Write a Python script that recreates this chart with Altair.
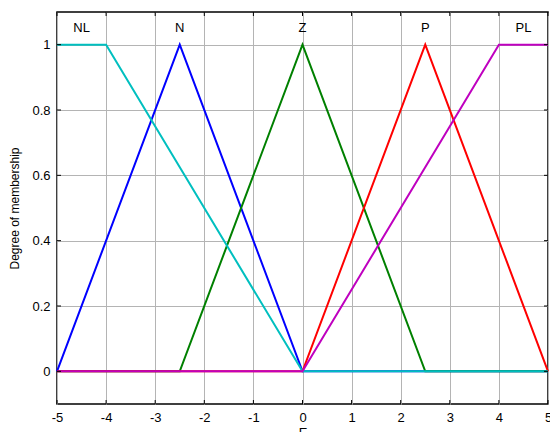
import altair as alt
import pandas as pd

# membership function breakpoints
names = ["NL", "N", "Z", "P", "PL"]
colors = ["#00BFBF", "#0000FF", "#008000", "#FF0000", "#BF00BF"]
xs = {
    "NL": [-5, -4, 0, 5],
    "N": [-5, -2.5, 0, 5],
    "Z": [-5, -2.5, 0, 2.5, 5],
    "P": [-5, 0, 2.5, 5],
    "PL": [-5, 0, 4, 5],
}
ys = {
    "NL": [1, 1, 0, 0],
    "N": [0, 1, 0, 0],
    "Z": [0, 0, 1, 0, 0],
    "P": [0, 0, 1, 0],
    "PL": [0, 0, 1, 1],
}
label_x = [-4.5, -2.5, 0, 2.5, 4.5]
label_y = [1.05, 1.05, 1.05, 1.05, 1.05]
x_ticks = [-5, -4, -3, -2, -1, 0, 1, 2, 3, 4, 5]
y_ticks = [0, 0.2, 0.4, 0.6, 0.8, 1]

FONT = "Liberation Sans"
W, H = 491, 392

xscale = alt.Scale(domain=[-5, 5], nice=False, zero=False)
yscale = alt.Scale(domain=[-0.1, 1.1], nice=False, zero=False)

xaxis = alt.Axis(values=x_ticks, title="E", grid=True, gridColor="#b4b4b4",
                 gridOpacity=1, gridWidth=1, domain=False, ticks=False,
                 labelExpr="datum.value + ''", labelFlush=False,
                 labelFont=FONT, labelFontSize=13, labelColor="#000",
                 labelPadding=7, titleFont=FONT, titleFontSize=13,
                 titleFontWeight="normal", titleColor="#000",
                 titleBaseline="top", titleY=22)
yaxis = alt.Axis(values=y_ticks, title="Degree of membership", grid=True,
                 gridColor="#b4b4b4", gridOpacity=1, gridWidth=1,
                 domain=False, ticks=False, labelExpr="datum.value + ''",
                 labelFlush=False,
                 labelFont=FONT, labelFontSize=13,
                 labelColor="#000", labelPadding=7, titleFont=FONT,
                 titleFontSize=12, titleFontWeight="normal", titleColor="#000",
                 titleX=-43, titleY=196, titleAngle=-90, titleBaseline="middle",
                 titleAlign="center")

draw_order = ["N", "Z", "P", "NL", "PL"]
layers = []
for nm in draw_order:
    c = colors[names.index(nm)]
    df = pd.DataFrame({"x": xs[nm], "y": ys[nm], "i": range(len(xs[nm]))})
    layers.append(
        alt.Chart(df).mark_line(color=c, strokeWidth=2).encode(
            x=alt.X("x:Q", scale=xscale, axis=xaxis),
            y=alt.Y("y:Q", scale=yscale, axis=yaxis),
            order="i:Q",
        )
    )

labels_df = pd.DataFrame({"name": names, "x": label_x, "y": label_y})
labels = alt.Chart(labels_df).mark_text(font=FONT, fontSize=13, color="#000",
                                        baseline="middle", align="center").encode(
    x=alt.X("x:Q", scale=xscale, axis=xaxis),
    y=alt.Y("y:Q", scale=yscale, axis=yaxis),
    text="name:N",
)

# inward tick marks on all four sides
xt_df = pd.DataFrame({"x": x_ticks})
yt_df = pd.DataFrame({"y": y_ticks})
bottom_ticks = alt.Chart(xt_df).mark_rule(color="#000", strokeWidth=1).encode(
    x=alt.X("x:Q", scale=xscale, axis=xaxis),
    y=alt.value(H), y2=alt.value(H - 4),
)
top_ticks = alt.Chart(xt_df).mark_rule(color="#000", strokeWidth=1).encode(
    x=alt.X("x:Q", scale=xscale, axis=xaxis),
    y=alt.value(0), y2=alt.value(4),
)
left_ticks = alt.Chart(yt_df).mark_rule(color="#000", strokeWidth=1).encode(
    y=alt.Y("y:Q", scale=yscale, axis=yaxis),
    x=alt.value(0), x2=alt.value(4),
)
right_ticks = alt.Chart(yt_df).mark_rule(color="#000", strokeWidth=1).encode(
    y=alt.Y("y:Q", scale=yscale, axis=yaxis),
    x=alt.value(W), x2=alt.value(W - 4),
)

chart = alt.layer(*layers, labels, bottom_ticks, top_ticks, left_ticks,
                  right_ticks).properties(
    width=W, height=H,
    autosize=alt.AutoSizeParams(type="none"),
    padding={"left": 49, "top": 4, "right": 2, "bottom": 28},
    background="white",
).configure_view(stroke="#000", strokeWidth=1.5)

chart.save("out.html", embed_options={"renderer": "svg", "actions": False})
